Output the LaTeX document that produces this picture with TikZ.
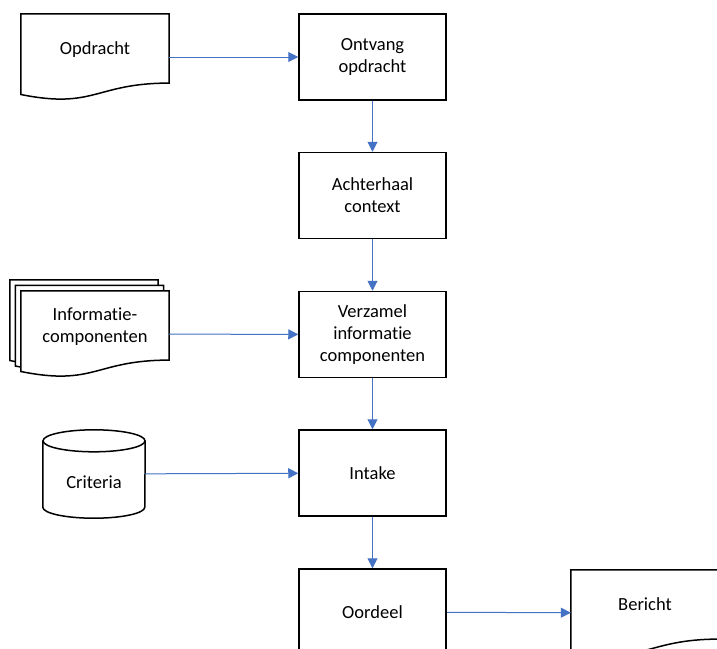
\documentclass[tikz,border=0pt]{standalone}
\usepackage{fontspec}
\setmainfont[Ligatures=NoCommon]{Carlito}
\usetikzlibrary{calc,arrows.meta,backgrounds}
\definecolor{pijlblauw}{HTML}{4472C4}
\tikzset{
  proces/.style={
    shape = rectangle,
    draw,
    line width = 1.5pt,
    minimum width = 147pt,
    minimum height = 86pt,
    align = center
  },
  stuk/.style={
    shape = rectangle,
    minimum width = 148pt,
    minimum height = 86pt
  },
  vat/.style={
    shape = rectangle,
    minimum width = 102pt,
    minimum height = 88pt
  },
  rand/.style={
    draw,
    line width = 1.5pt,
    fill = white
  },
  pijl/.style={
    draw = pijlblauw,
    line width = 1pt,
    -{Triangle[length=10pt,width=10pt]}
  },
  every picture/.style = {
    font=\fontsize{18.5}{22}\selectfont
  },
  every label/.style = {
    align = center
  }
}
% papier met golvende onderrand
\newcommand\papier[1]{%
  \draw[rand] (#1.north west) -- (#1.north east)
    -- ($(#1.north east)!0.802!(#1.south east)$)
    .. controls ($(#1.north)!0.802!(#1.south)$) and ($(#1.north)!1.107!(#1.south)$)
    .. ($(#1.north west)!0.934!(#1.south west)$) -- cycle;}

\begin{document}
\begin{tikzpicture}[x=1pt,y=-1pt]
\useasboundingbox (0,0) rectangle (717,648);
\clip (0,0) rectangle (717,648);
% processtappen
\foreach \n/\y/\t in {ontvang/57/{Ontvang\\opdracht},
    achterhaal/195.5/{Achterhaal\\context},
    verzamel/334.5/{Verzamel\\informatie\\componenten},
    intake/473/Intake, oordeel/612/Oordeel}{
  \node[proces] (\n) at (372.5,\y) {\t};
}
% invoer en uitvoer
\node[stuk, label={[yshift=7pt]center:Opdracht}] (opdracht) at (95,57) {};
\node[stuk, label={[yshift=7.5pt]center:{Informatie-\\componenten}}] (info) at (95,334) {};
\node[vat, label={[yshift=-8pt]center:Criteria}] (criteria) at (94,474) {};
\node[stuk, label={[yshift=9pt]center:Bericht}] (bericht) at (645,613) {};

\begin{scope}[on background layer]
  \fill[white] (0,0) rectangle (717,648);
  \papier{opdracht}
  % stapel papieren
  \foreach \d in {-11,-5.5}{
    \begin{scope}[transform canvas={shift={(\d,\d)}}]
      \papier{info}
    \end{scope}
  }
  \papier{info}
  \papier{bericht}
  % database
  \draw[rand] ([yshift=-11pt]criteria.north west) -- ([yshift=11pt]criteria.south west)
    arc[start angle=180, end angle=360, x radius=51pt, y radius=11pt]
    -- ([yshift=-11pt]criteria.north east);
  \draw[rand] ([yshift=-11pt]criteria.north) ellipse [x radius=51pt, y radius=11pt];
\end{scope}

\foreach \a/\b in {opdracht/ontvang, ontvang/achterhaal, achterhaal/verzamel,
    info/verzamel, verzamel/intake, criteria/intake, intake/oordeel, oordeel/bericht}
  \draw[pijl] (\a) -- (\b);
\end{tikzpicture}
\end{document}
